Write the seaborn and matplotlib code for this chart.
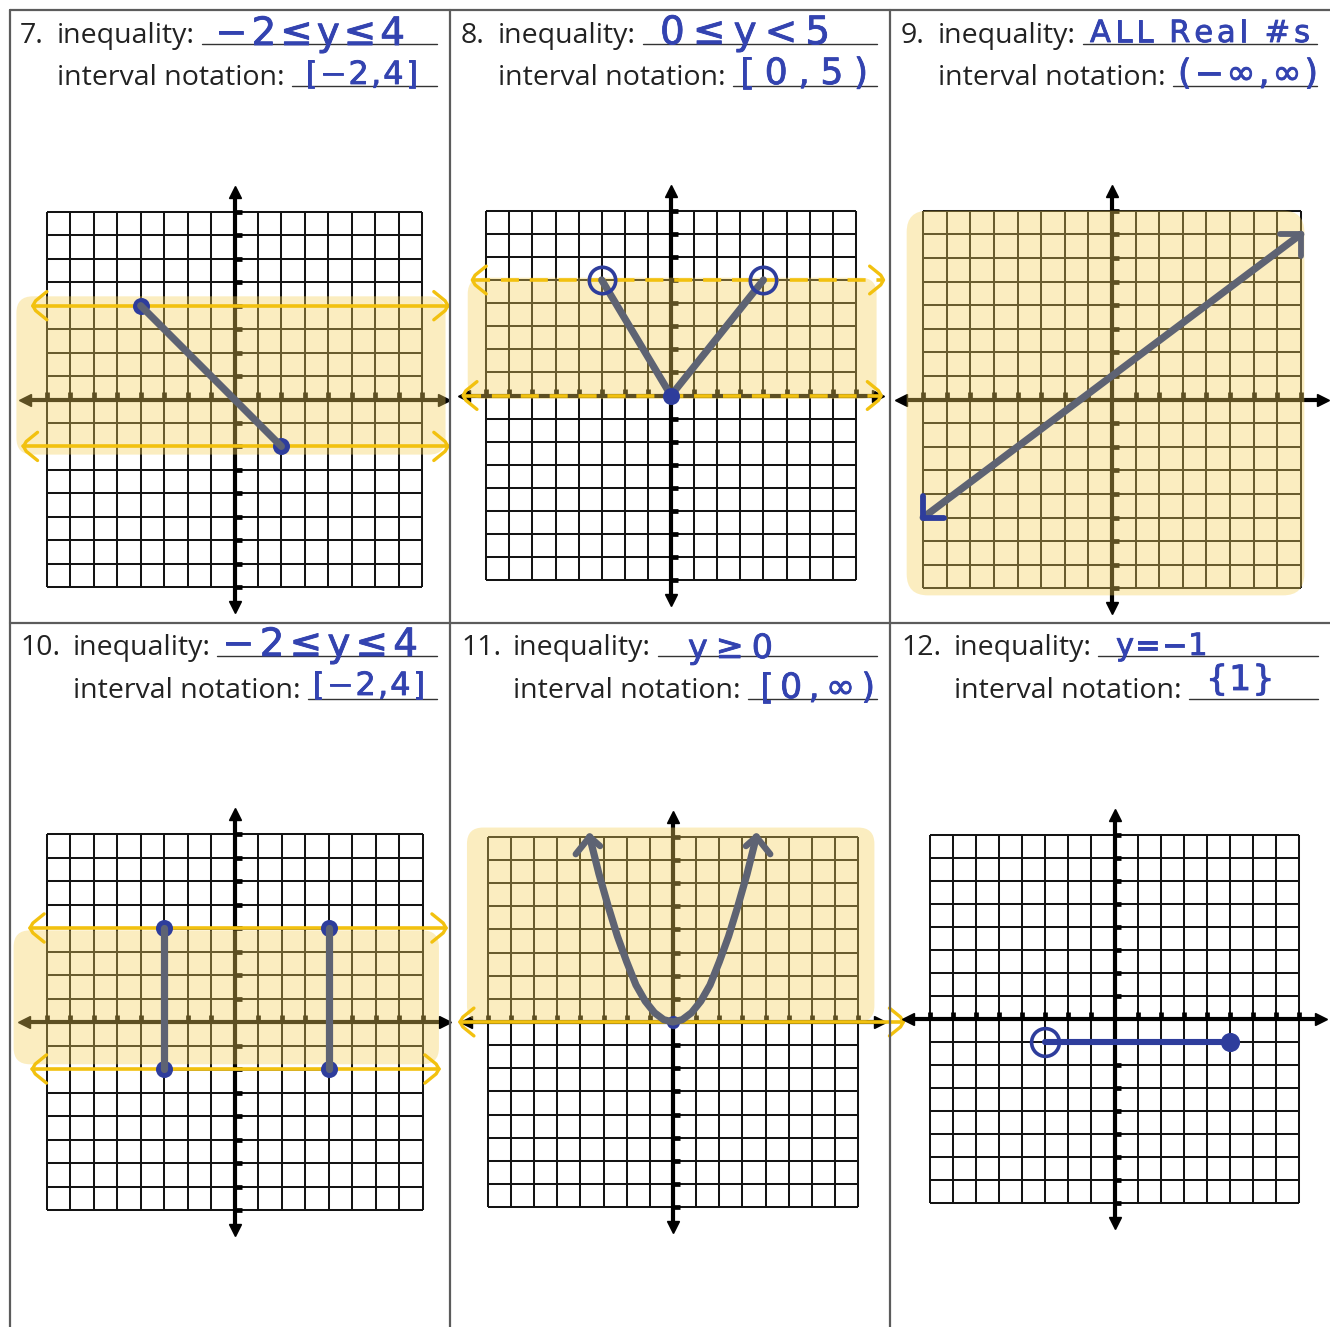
import numpy as np
import matplotlib
matplotlib.use("Agg")
import matplotlib.pyplot as plt
import matplotlib.patheffects as pe
import seaborn as sns
from matplotlib.patches import FancyBboxPatch
from matplotlib.lines import Line2D

# ---------------------------------------------------------------- content
problem_numbers = ["7.", "8.", "9.", "10.", "11.", "12."]
inequality_answers = ["−2≤y≤4", "0≤y<5", "ALL Real #s", "−2≤y≤4", "y≥0", "y=−1"]
interval_answers = ["[−2,4]", "[0,5)", "(−∞,∞)", "[−2,4]", "[0,∞)", "{1}"]

# graph 7: segment with closed endpoints
g7_x = [-4, 2]
g7_y = [4, -2]
g7_range = (-2, 4)

# graph 8: V shape, open ends, closed vertex
g8_x = [-3, 0, 4]
g8_y = [5, 0, 5]
g8_open_x = [-3, 4]
g8_open_y = [5, 5]
g8_closed_x = [0]
g8_closed_y = [0]
g8_range = (0, 5)

# graph 9: line with arrows at both ends
g9_x = [-8, 8]
g9_y = [-5, 7]

# graph 10: two vertical segments
g10_seg_x = [-3, 4]
g10_y = [-2, 4]
g10_range = (-2, 4)

# graph 11: parabola with arrows
g11_x = [-3.6, -3.2, -2.8, -2.4, -2.0, -1.6, -1.2, -0.8, -0.4, 0,
         0.4, 0.8, 1.2, 1.6, 2.0, 2.4, 2.8, 3.2, 3.6]
g11_y = [8.0, 6.4, 5.0, 3.7, 2.6, 1.6, 0.9, 0.4, 0.1, 0,
         0.1, 0.4, 0.9, 1.6, 2.6, 3.7, 5.0, 6.4, 8.0]
g11_low = 0

# graph 12: horizontal segment, open left end, closed right end
g12_x = [-3, 5]
g12_y = [-1, -1]

# ---------------------------------------------------------------- styling
W, H, DPI = 1330, 1327, 100
INK = "#222222"
PEN_BLUE = "#3343b0"
DOT_BLUE = "#2e3d9c"
GREY = "#5e6373"
YELLOW = "#f2c10f"
HIGHLIGHT = "#f6d25a"
HL_ALPHA = 0.38

sns.set_theme(style="white")
plt.rcParams["font.family"] = ["Open Sans", "DejaVu Sans"]

fig = plt.figure(figsize=(W / DPI, H / DPI), dpi=DPI)
fig.patch.set_facecolor("white")
renderer = fig.canvas.get_renderer()


def fx(x):
    return x / W


def fy(y):
    return 1 - y / H


# ---------------------------------------------------------------- table lines
border = dict(color="#5c5c5c", lw=1.6, transform=fig.transFigure)
fig.add_artist(Line2D([fx(10), fx(1330)], [fy(10), fy(10)], **border))
fig.add_artist(Line2D([fx(10), fx(1330)], [fy(623), fy(623)], **border))
for vx in (10, 450, 890):
    fig.add_artist(Line2D([fx(vx), fx(vx)], [fy(10), fy(1327)], **border))


def pen_text(x0, base, s, size, width):
    """Write a pen answer, spreading the characters over a given pixel width."""
    style = dict(fontsize=size, color=PEN_BLUE, family=["DejaVu Sans"],
                 ha="left", va="baseline",
                 path_effects=[pe.withStroke(linewidth=0.6, foreground=PEN_BLUE)])
    widths = []
    for ch in s:
        t = fig.text(0, 0, ch if ch != " " else "n", **style)
        w = t.get_window_extent(renderer=renderer).width
        t.remove()
        widths.append(w * (0.45 if ch == " " else 1.0))
    gap = max((width - sum(widths)) / max(len(s) - 1, 1), 1.0)
    x = x0
    for ch, w in zip(s, widths):
        if ch != " ":
            fig.text(fx(x), fy(base), ch, **style)
        x += w + gap


# ---------------------------------------------------------------- header text
# (number x, label x, baseline 1, baseline 2, underline1 x-range, underline2 x-range)
header_layout = [
    (20, 57, 43, 85, (202, 437), (292, 437)),
    (461, 498, 43, 85, (643, 877), (733, 877)),
    (901, 938, 43, 85, (1083, 1317), (1173, 1317)),
    (20, 73, 655, 698, (217, 437), (308, 437)),
    (461, 513, 655, 698, (658, 877), (748, 877)),
    (901, 954, 655, 698, (1098, 1318), (1189, 1318)),
]
# (x, baseline, size, width) for each pen answer
answer1_layout = [
    (215, 45, 28, 190),
    (660, 44, 28, 170),
    (1090, 42, 22, 220),
    (222, 656, 28, 196),
    (688, 658, 24, 85),
    (1116, 655, 22, 88),
]
answer2_layout = [
    (305, 84, 23, 113),
    (740, 84, 26, 128),
    (1178, 84, 25, 140),
    (312, 695, 23, 113),
    (760, 698, 25, 115),
    (1206, 690, 25, 62),
]

for i in range(6):
    nx, lx, b1, b2, u1, u2 = header_layout[i]
    fig.text(fx(nx), fy(b1), problem_numbers[i], fontsize=20.5, color=INK,
             ha="left", va="baseline")
    fig.text(fx(lx), fy(b1), "inequality:", fontsize=20.5, color=INK,
             ha="left", va="baseline")
    fig.text(fx(lx), fy(b2), "interval notation:", fontsize=20.5, color=INK,
             ha="left", va="baseline")
    for (x0, x1), yb in ((u1, b1), (u2, b2)):
        fig.add_artist(Line2D([fx(x0), fx(x1)], [fy(yb + 0.5), fy(yb + 0.5)],
                              color="#333333", lw=1.0, transform=fig.transFigure))
    pen_text(*answer1_layout[i][:2], inequality_answers[i], *answer1_layout[i][2:])
    pen_text(*answer2_layout[i][:2], interval_answers[i], *answer2_layout[i][2:])


# ---------------------------------------------------------------- graphs
SPAN = 10.6


def graph_axes(ox, oy, u):
    ax = fig.add_axes([fx(ox - SPAN * u), (H - oy - SPAN * u) / H,
                       2 * SPAN * u / W, 2 * SPAN * u / H])
    ax.set_xlim(-SPAN, SPAN)
    ax.set_ylim(-SPAN, SPAN)
    ax.set_axis_off()
    ax.patch.set_alpha(0)
    return ax


def draw_grid(ax):
    k = np.arange(-8, 9)
    ax.vlines(k, -8, 8, color="#141414", lw=1.45, zorder=1)
    ax.hlines(k, -8, 8, color="#141414", lw=1.45, zorder=1)
    ax.plot([-8.8, 8.8], [0, 0], color="black", lw=3.0, zorder=2,
            solid_capstyle="butt")
    ax.plot([0, 0], [-8.7, 8.7], color="black", lw=3.0, zorder=2,
            solid_capstyle="butt")
    ax.plot([-8.95], [0], marker="<", ms=9, color="black", zorder=2)
    ax.plot([8.95], [0], marker=">", ms=9, color="black", zorder=2)
    ax.plot([0], [8.85], marker="^", ms=9, color="black", zorder=2)
    ax.plot([0], [-8.85], marker="v", ms=9, color="black", zorder=2)
    nz = k[k != 0]
    ax.vlines(nz, 0, 0.3, color="black", lw=3.4, zorder=2)
    ax.hlines(nz, 0, 0.3, color="black", lw=3.4, zorder=2)


def highlight(ax, x0, x1, y0, y1, r=0.7):
    ax.add_patch(FancyBboxPatch((x0, y0), x1 - x0, y1 - y0,
                                boxstyle=f"round,pad=0,rounding_size={r}",
                                fc=HIGHLIGHT, ec="none", alpha=HL_ALPHA,
                                zorder=3, clip_on=False))


def chevron(ax, tip_x, y, side, color=YELLOW, lw=2.4, w=0.6, h=0.6):
    s = 1 if side == "left" else -1
    xs = [tip_x + s * w, tip_x + s * 0.12, tip_x, tip_x + s * 0.12, tip_x + s * w]
    ys = [y + h, y + h * 0.35, y, y - h * 0.35, y - h]
    ax.plot(xs, ys, color=color, lw=lw, zorder=4, clip_on=False,
            solid_capstyle="round", solid_joinstyle="round")


def boundary(ax, y, x0, x1, dashed=False):
    ls = (0, (5, 3)) if dashed else "-"
    ax.plot([x0, x1], [y, y], color=YELLOW, lw=2.6, ls=ls, zorder=4,
            clip_on=False)
    chevron(ax, x0, y, "left")
    chevron(ax, x1, y, "right")


def graph_line(ax, x, y, color=GREY, lw=5.2, z=6):
    sns.lineplot(x=x, y=y, sort=False, estimator=None, ax=ax, color=color,
                 linewidth=lw, zorder=z, legend=False,
                 solid_capstyle="round", solid_joinstyle="round")


def closed_dots(ax, x, y, size=150, z=5):
    sns.scatterplot(x=x, y=y, ax=ax, color=DOT_BLUE, s=size, zorder=z,
                    edgecolor=DOT_BLUE, linewidth=0, legend=False)


def open_dots(ax, x, y, ms=19, z=7):
    ax.plot(x, y, ls="none", marker="o", ms=ms, mfc="none", mec=DOT_BLUE,
            mew=2.6, zorder=z)


# ---- 7
ax7 = graph_axes(234.5, 399.5, 23.45)
draw_grid(ax7)
highlight(ax7, -9.3, 9.0, g7_range[0] - 0.35, g7_range[1] + 0.4)
boundary(ax7, g7_range[1], -8.6, 9.1)
boundary(ax7, g7_range[0], -9.0, 9.1)
closed_dots(ax7, g7_x, g7_y)
graph_line(ax7, g7_x, g7_y)

# ---- 8
ax8 = graph_axes(671, 395.5, 23.1)
draw_grid(ax8)
highlight(ax8, -8.8, 8.9, g8_range[0] - 0.15, g8_range[1] + 0.1)
boundary(ax8, g8_range[1], -8.6, 9.2, dashed=True)
boundary(ax8, g8_range[0], -9.0, 9.1, dashed=True)
graph_line(ax8, g8_x, g8_y)
closed_dots(ax8, g8_closed_x, g8_closed_y, z=7)
open_dots(ax8, g8_open_x, g8_open_y)

# ---- 9
ax9 = graph_axes(1112, 399.5, 23.6)
draw_grid(ax9)
highlight(ax9, -8.7, 8.15, -8.3, 8.0, r=0.9)
graph_line(ax9, g9_x, g9_y)
# arrowheads: arms parallel to the axes
ax9.plot([g9_x[1] - 0.9, g9_x[1], g9_x[1]], [g9_y[1], g9_y[1], g9_y[1] - 0.9],
         color=GREY, lw=4.2, zorder=6, solid_joinstyle="round",
         solid_capstyle="round", clip_on=False)
ax9.plot([g9_x[0], g9_x[0], g9_x[0] + 0.9], [g9_y[0] + 0.9, g9_y[0], g9_y[0]],
         color=DOT_BLUE, lw=4.2, zorder=6, solid_joinstyle="round",
         solid_capstyle="round", clip_on=False)

# ---- 10
ax10 = graph_axes(234.5, 1022, 23.5)
draw_grid(ax10)
highlight(ax10, -9.4, 8.7, g10_range[0] + 0.2, g10_range[1] - 0.1)
ax10.plot(g10_seg_x, [g10_y[1]] * 2, color=DOT_BLUE, lw=2.0, zorder=4)
ax10.plot(g10_seg_x, [g10_y[0]] * 2, color=GREY, lw=2.0, zorder=4)
boundary(ax10, g10_range[1], -8.7, 9.0)
boundary(ax10, g10_range[0], -8.6, 8.7)
for sx in g10_seg_x:
    closed_dots(ax10, [sx, sx], g10_y)
    graph_line(ax10, [sx, sx], g10_y)

# ---- 11
ax11 = graph_axes(673, 1022, 23.15)
draw_grid(ax11)
highlight(ax11, -8.9, 8.7, g11_low, 8.4)
closed_dots(ax11, [0], [0], size=90, z=4)
boundary(ax11, g11_low, -9.2, 9.95)
graph_line(ax11, g11_x, g11_y)
for tip_x, sgn in ((g11_x[0], -1), (g11_x[-1], 1)):
    tip_y = g11_y[0]
    ax11.plot([tip_x + sgn * 0.6, tip_x, tip_x - sgn * 0.45],
              [tip_y - 0.75, tip_y, tip_y - 0.4],
              color=GREY, lw=4.6, zorder=6, solid_joinstyle="round",
              solid_capstyle="round", clip_on=False)

# ---- 12
ax12 = graph_axes(1114.5, 1019, 23.06)
draw_grid(ax12)
graph_line(ax12, g12_x, g12_y, color=DOT_BLUE, lw=4.4)
closed_dots(ax12, g12_x[1:], g12_y[1:], size=190, z=7)
open_dots(ax12, g12_x[:1], g12_y[:1], ms=20)

fig.savefig("out.png", dpi=DPI, facecolor="white")
